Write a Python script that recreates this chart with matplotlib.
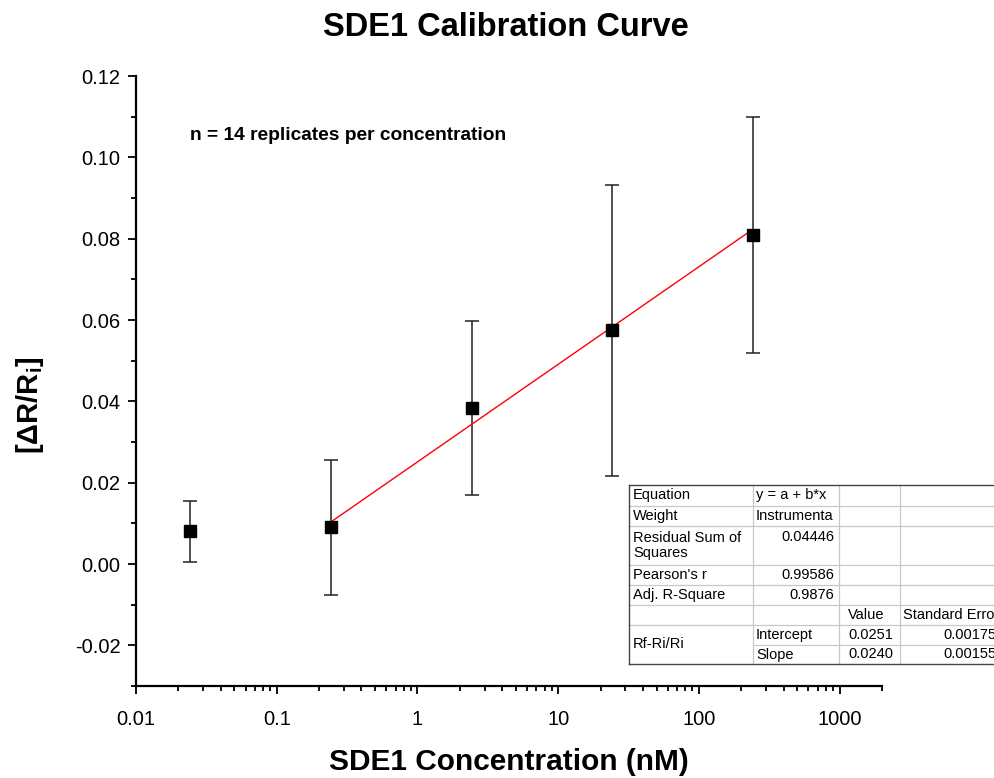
import numpy as np
import matplotlib
matplotlib.use("Agg")
import matplotlib.pyplot as plt
from matplotlib.lines import Line2D
from matplotlib.patches import Rectangle
from matplotlib.ticker import FixedLocator, FuncFormatter

plt.rcParams['font.family'] = ['Liberation Sans', 'DejaVu Sans']
plt.rcParams['mathtext.fontset'] = 'custom'
plt.rcParams['mathtext.rm'] = 'Liberation Sans'
plt.rcParams['mathtext.bf'] = 'Liberation Sans:bold'

# data
conc = [0.0243, 0.243, 2.43, 24.3, 243]
response = [0.0081, 0.0090, 0.0384, 0.0575, 0.0810]
resp_err = [0.0075, 0.0165, 0.0214, 0.0358, 0.0290]

# linear fit y = a + b*log10(x), over the last four points
fit_a = 0.0251
fit_b = 0.0240
fit_range = [0.243, 243]

# fit report table
stat_names = ["Equation", "Weight", "Residual Sum of\nSquares", "Pearson's r", "Adj. R-Square"]
stat_values = ["y = a + b*x", "Instrumenta", "0.04446", "0.99586", "0.9876"]
param_header = ["Value", "Standard Error"]
param_names = ["Intercept", "Slope"]
param_values = ["0.0251", "0.0240"]
param_errors = ["0.00175", "0.00155"]
group_name = "Rf-Ri/Ri"

x_ticks = [0.01, 0.1, 1, 10, 100, 1000]
y_ticks = [-0.02, 0.00, 0.02, 0.04, 0.06, 0.08, 0.10, 0.12]

W, H = 994, 778
fig = plt.figure(figsize=(W / 100, H / 100), dpi=100)
ax = fig.add_axes([136 / W, 1 - 686 / H, 746 / W, 610 / H])

ax.errorbar(conc, response, yerr=resp_err, fmt='none', ecolor='#222222',
            elinewidth=1.1, capsize=5, capthick=1.1, zorder=2)
fx = np.array(fit_range)
ax.plot(fx, fit_a + fit_b * np.log10(fx), color='#ff0000', lw=1.0, zorder=3)
ax.plot(conc, response, 's', color='black', markersize=8.5, zorder=4)

ax.set_xscale('log')
ax.set_xlim(0.01, 2000)
ax.set_ylim(-0.03, 0.12)
ax.xaxis.set_major_locator(FixedLocator(x_ticks))
ax.xaxis.set_major_formatter(FuncFormatter(lambda v, p: '%g' % v))
minors = [m * 10.0 ** e for e in range(-2, 4) for m in range(2, 10)]
ax.xaxis.set_minor_locator(FixedLocator([v for v in minors if v <= 2000]))
ax.xaxis.set_minor_formatter(FuncFormatter(lambda v, p: ''))
ax.yaxis.set_major_locator(FixedLocator(y_ticks))
ax.yaxis.set_minor_locator(FixedLocator(np.arange(-0.03, 0.121, 0.01)))
ax.yaxis.set_major_formatter(FuncFormatter(lambda v, p: '%.2f' % v))

for s in ['top', 'right']:
    ax.spines[s].set_visible(False)
for s in ['left', 'bottom']:
    ax.spines[s].set_linewidth(1.6)
ax.tick_params(which='major', direction='out', length=6, width=1.3, labelsize=14.5)
ax.tick_params(axis='x', which='major', pad=11)
ax.tick_params(axis='y', which='major', pad=5)
ax.tick_params(which='minor', direction='out', length=3.5, width=1.3)

ax.set_xlabel('SDE1 Concentration (nM)', fontsize=21.5, fontweight='bold', labelpad=14)
ax.set_ylabel(r'[ΔR/R$_\mathbf{i}$]', fontsize=21, fontweight='bold')
ax.yaxis.set_label_coords(-0.12, 0.46)

ax.text(0.0243, 0.1054, 'n = 14 replicates per concentration', fontsize=13.8,
        fontweight='bold', va='center', ha='left')

fig.text(506 / W, 1 - 27 / H, 'SDE1 Calibration Curve', fontsize=23.5,
         fontweight='bold', ha='center', va='center')


# table drawn in figure pixels
def px(x, y):
    return x / W, 1 - y / H


cols = [629, 753, 839, 900, 1000]
rows = [485, 506, 526, 565, 585, 605, 625, 645, 664]
fig.add_artist(Rectangle(px(cols[0], rows[-1]), (cols[-1] - cols[0]) / W,
                         (rows[-1] - rows[0]) / H, transform=fig.transFigure,
                         facecolor='white', edgecolor='none', zorder=5))


def hline(y, x0, x1, c='#c8c8c8', lw=0.9):
    (a, b), (c2, _) = px(x0, y), px(x1, y)
    fig.add_artist(Line2D([a, c2], [b, b], color=c, lw=lw, transform=fig.transFigure, zorder=6))


def vline(x, y0, y1, c='#c8c8c8', lw=0.9):
    (a, b), (_, d) = px(x, y0), px(x, y1)
    fig.add_artist(Line2D([a, a], [b, d], color=c, lw=lw, transform=fig.transFigure, zorder=6))


for y in rows[1:-1]:
    if y == rows[7]:
        hline(y, cols[1], cols[-1])
    else:
        hline(y, cols[0], cols[-1])
for x in cols[1:4]:
    vline(x, rows[0], rows[-1])
hline(rows[0], cols[0], cols[-1], c='#444444', lw=1.0)
hline(rows[-1], cols[0], cols[-1], c='#444444', lw=1.0)
vline(cols[0], rows[0], rows[-1], c='#444444', lw=1.0)

fs = 10.5


def cell(x, y, s, ha='left', va='center'):
    fig.text(*px(x, y), s, fontsize=fs, ha=ha, va=va, zorder=7, linespacing=1.05)


for i, (nm, val) in enumerate(zip(stat_names, stat_values)):
    top, bot = rows[i], rows[i + 1]
    if '\n' in nm:
        cell(cols[0] + 4, top + 5, nm, va='top')
        cell(cols[2] - 5, top + 4, val, ha='right', va='top')
    else:
        yc = (top + bot) / 2
        cell(cols[0] + 4, yc, nm)
        if i < 2:
            cell(cols[1] + 3, yc, val)
        else:
            cell(cols[2] - 5, yc, val, ha='right')

yc = (rows[5] + rows[6]) / 2
cell(866, yc, param_header[0], ha='center')
cell(cols[3] + 3, yc, param_header[1])
for j in range(2):
    yc = (rows[6 + j] + rows[7 + j]) / 2
    cell(cols[1] + 3, yc, param_names[j])
    cell(cols[3] - 7, yc, param_values[j], ha='right')
    cell(cols[4] - 3, yc, param_errors[j], ha='right')
cell(cols[0] + 4, (rows[6] + rows[8]) / 2, group_name)

fig.savefig('out.png', dpi=100)
